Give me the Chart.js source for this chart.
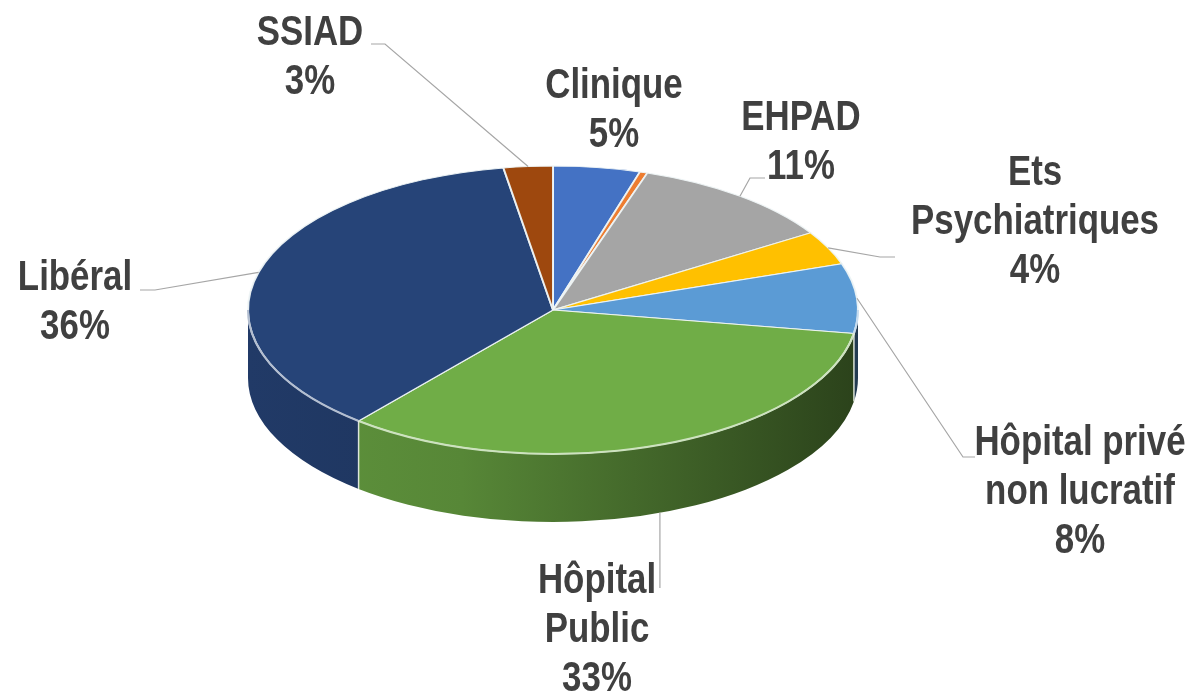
<!DOCTYPE html>
<html>
<head>
<meta charset="utf-8">
<script src="https://cdn.jsdelivr.net/npm/chart.js@4.4.1/dist/chart.umd.min.js"></script>
<style>
  html, body { margin: 0; padding: 0; background: #fff; }
  #wrap { width: 1199px; height: 693px; position: relative; }
</style>
</head>
<body>
<div id="wrap"><canvas id="c"></canvas></div>
<script>
// Data (clockwise from 12 o'clock).
const categories = ["Clinique", "Autre", "EHPAD", "Ets Psychiatriques",
  "Hôpital privé non lucratif", "Hôpital Public", "Libéral", "SSIAD"];
const values = [4.6, 0.4, 11.0, 3.8, 7.8, 33.4, 36.4, 2.6];
const pctLabels = ["5%", "", "11%", "4%", "8%", "33%", "36%", "3%"];
const nameLines = [["Clinique"], [], ["EHPAD"], ["Ets", "Psychiatriques"],
  ["Hôpital privé", "non lucratif"], ["Hôpital", "Public"], ["Libéral"], ["SSIAD"]];
const colors = ["#4472C4", "#ED7D31", "#A5A5A5", "#FFC000", "#5B9BD5", "#70AD47", "#264478", "#9E480E"];

// Label layout: centre x, centre y of first line, leader elbow (text end -> elbow -> slice).
const labelLayout = [
  { x: 614, y: 83 },
  null,
  { x: 801, y: 115, lead: [[765, 178], [750, 178]] },
  { x: 1035, y: 170, lead: [[895, 257], [880, 257]] },
  { x: 1080, y: 440, lead: [[975, 457], [963, 457]] },
  { x: 597, y: 578, drop: 588 },
  { x: 75, y: 275, lead: [[140, 290], [155, 290]] },
  { x: 310, y: 30, lead: [[371, 44], [385, 44]] },
];

const TILT = 144 / 305;   // vertical squash of the top face
const DEPTH = 68;         // wall height, px
const LINE = 49;          // label line spacing

const shade = (hex, f) => {
  const n = parseInt(hex.slice(1), 16);
  const r = Math.round(((n >> 16) & 255) * f), g = Math.round(((n >> 8) & 255) * f), b = Math.round((n & 255) * f);
  return `rgb(${r},${g},${b})`;
};
const tint = (hex, f) => {
  const n = parseInt(hex.slice(1), 16);
  const m = (v) => Math.round(v + (255 - v) * f);
  return `rgb(${m((n >> 16) & 255)},${m((n >> 8) & 255)},${m(n & 255)})`;
};

// Fake 3D: walls before the slices, squash the slices, rim + labels after.
const pie3d = {
  id: "pie3d",
  beforeDatasetsDraw(c) {
    const ctx = c.ctx;
    const arcs = c.getDatasetMeta(0).data;
    const { x: cx, y: cy, outerRadius: r } = arcs[0];
    const ry = r * TILT;
    ctx.save();
    arcs.forEach((a, i) => {
      const s = Math.max(a.startAngle, 0), e = Math.min(a.endAngle, Math.PI);
      if (e <= s) return;
      const g = ctx.createLinearGradient(cx - r, 0, cx + r, 0);
      g.addColorStop(0, shade(colors[i], 0.86));
      g.addColorStop(0.35, shade(colors[i], 0.78));
      g.addColorStop(1, shade(colors[i], 0.38));
      ctx.beginPath();
      ctx.ellipse(cx, cy, r, ry, 0, s, e, false);
      ctx.ellipse(cx, cy + DEPTH, r, ry, 0, e, s, true);
      ctx.closePath();
      ctx.fillStyle = g;
      ctx.fill();
    });
    ctx.restore();
    ctx.save();
    ctx.translate(cx, cy);
    ctx.scale(1, TILT);
    ctx.translate(-cx, -cy);
  },
  afterDatasetsDraw(c) {
    const ctx = c.ctx;
    ctx.restore();
    const arcs = c.getDatasetMeta(0).data;
    const { x: cx, y: cy, outerRadius: r } = arcs[0];
    const ry = r * TILT;
    ctx.save();
    arcs.forEach((a, i) => {
      const s = Math.max(a.startAngle, 0), e = Math.min(a.endAngle, Math.PI);
      if (e <= s) return;
      ctx.beginPath();
      ctx.ellipse(cx, cy, r, ry, 0, s, e, false);
      ctx.strokeStyle = tint(colors[i], 0.65);
      ctx.lineWidth = 2;
      ctx.stroke();
      if (a.startAngle > 0 && a.startAngle < Math.PI) {
        const px = cx + r * Math.cos(a.startAngle), py = cy + ry * Math.sin(a.startAngle);
        ctx.beginPath();
        ctx.moveTo(px, py);
        ctx.lineTo(px, py + DEPTH);
        ctx.strokeStyle = "rgba(235,242,230,0.9)";
        ctx.lineWidth = 1.5;
        ctx.stroke();
      }
    });
    ctx.restore();
  },
  afterDraw(c) {
    const ctx = c.ctx;
    const arcs = c.getDatasetMeta(0).data;
    const { x: cx, y: cy, outerRadius: r } = arcs[0];
    const ry = r * TILT;
    ctx.save();
    // leader lines
    ctx.strokeStyle = "#a6a6a6";
    ctx.lineWidth = 1.2;
    labelLayout.forEach((L, i) => {
      if (!L) return;
      const a = arcs[i];
      const mid = (a.startAngle + a.endAngle) / 2;
      const px = cx + r * Math.cos(mid), py = cy + ry * Math.sin(mid);
      ctx.beginPath();
      if (L.lead) {
        ctx.moveTo(L.lead[0][0], L.lead[0][1]);
        ctx.lineTo(L.lead[1][0], L.lead[1][1]);
        ctx.lineTo(px, py);
      } else if (L.drop) {
        ctx.moveTo(px, py + DEPTH);
        ctx.lineTo(px, L.drop);
      } else return;
      ctx.stroke();
    });
    // labels
    ctx.font = 'bold 42px "Liberation Sans", Arial, sans-serif';
    ctx.fillStyle = "#404040";
    ctx.textAlign = "center";
    ctx.textBaseline = "alphabetic";
    labelLayout.forEach((L, i) => {
      if (!L) return;
      const lines = nameLines[i].concat(pctLabels[i]);
      lines.forEach((t, k) => {
        ctx.save();
        ctx.translate(L.x, L.y + k * LINE + 15);
        ctx.scale(0.83, 1);
        ctx.fillText(t, 0, 0);
        ctx.restore();
      });
    });
    ctx.restore();
  },
};

new Chart(document.getElementById("c"), {
  type: "pie",
  data: {
    labels: categories,
    datasets: [{
      data: values,
      backgroundColor: colors,
      borderColor: "rgba(238,244,246,0.95)",
      borderWidth: 2,
      hoverOffset: 0,
      radius: 305,
      clip: false,
    }],
  },
  options: {
    responsive: true,
    maintainAspectRatio: false,
    animation: false,
    events: [],
    layout: { padding: { left: 248, right: 341, top: 5, bottom: 78 } },
    plugins: { legend: { display: false }, tooltip: { enabled: false } },
  },
  plugins: [pie3d],
});
</script>
</body>
</html>
